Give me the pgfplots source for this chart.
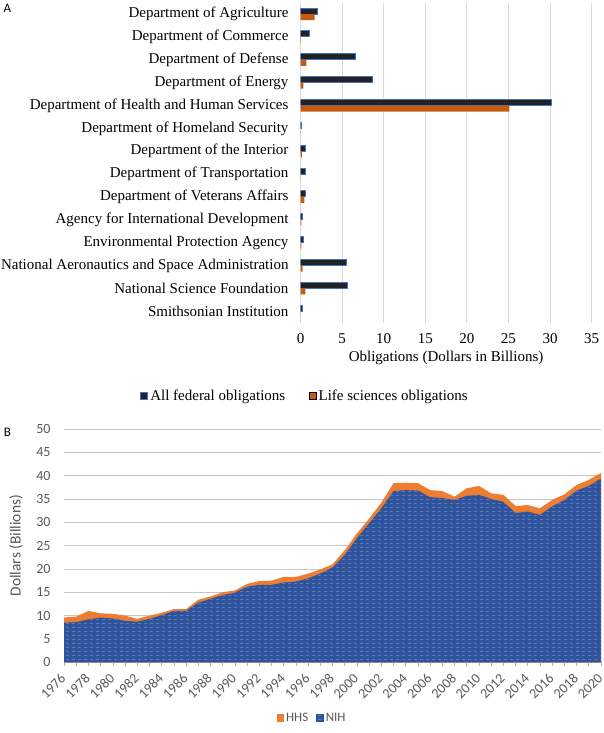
\documentclass[border=0pt]{standalone}
\usepackage{pgfplots}
\pgfplotsset{compat=1.18}
\usepackage{fontspec}
\setmainfont{Liberation Serif}
\newfontfamily\calibri{Carlito}
\usetikzlibrary{patterns}
\definecolor{barblack}{HTML}{222222}
\definecolor{barblue}{HTML}{4472C4}
\definecolor{barorange}{HTML}{C55A11}
\definecolor{gridgray}{HTML}{D9D9D9}
\definecolor{hhsorange}{HTML}{ED7D31}
\definecolor{nihblue}{HTML}{2F549B}
\definecolor{nihlight}{HTML}{6F8FCC}
\definecolor{txtgray}{HTML}{595959}
\pgfdeclarepatternformonly{hdash}{\pgfqpoint{0pt}{0pt}}{\pgfqpoint{6pt}{4pt}}{\pgfqpoint{6pt}{4pt}}{%
  \pgfsetlinewidth{0.6pt}%
  \pgfpathmoveto{\pgfqpoint{0pt}{2pt}}\pgfpathlineto{\pgfqpoint{3.5pt}{2pt}}\pgfusepath{stroke}}
\begin{document}
\begin{tikzpicture}
\useasboundingbox (0,0) rectangle (603pt,-733pt);
\node[font=\calibri\fontsize{13}{15}\selectfont] at (7.5pt,-8pt) {A};
\node[font=\calibri\fontsize{13}{15}\selectfont] at (7.5pt,-432pt) {B};
% Panel A
\begin{axis}[
  at={(300.5pt,-322.7pt)}, anchor=south west,
  scale only axis, width=291.2pt, height=320pt,
  xbar, bar width=6pt,
  xmin=0, xmax=35, ymin=-0.5, ymax=13.5,
  xtick={0,5,...,35},
  ytick={0,...,13},
  yticklabels={Smithsonian Institution,National Science Foundation,National Aeronautics and Space Administration,Environmental Protection Agency,Agency for International Development,Department of Veterans Affairs,Department of Transportation,Department of the Interior,Department of Homeland Security,Department of Health and Human Services,Department of Energy,Department of Defense,Department of Commerce,Department of Agriculture},
  axis line style={draw=none},
  major tick length=0pt,
  xmajorgrids, major grid style={gridgray, line width=1pt},
  /pgf/number format/assume math mode=true,
  tick label style={font=\fontsize{15}{18}\selectfont},
  yticklabel style={anchor=east, xshift=-8.5pt},
  xticklabel style={yshift=-7pt},
  xlabel={Obligations (Dollars in Billions)},
  xlabel style={font=\fontsize{15}{18}\selectfont, at={(axis description cs:0.5,0)}, anchor=center, yshift=-35pt},
  legend style={at={(axis description cs:0.0155,-0.229)}, anchor=center, draw=none, font=\fontsize{15}{18}\selectfont, legend columns=2, /tikz/every even column/.append style={column sep=22pt}},
  legend image code/.code={\draw[#1] (0pt,-3.5pt) rectangle (7pt,3.5pt);},
]
\addplot[bar shift=3pt, fill=barblack, draw=barblue, line width=1pt] coordinates {
(0.20,0) (5.67,1) (5.50,2) (0.42,3) (0.22,4) (0.62,5) (0.62,6) (0.62,7) (0.18,8) (30.2,9) (8.60,10) (6.67,11) (1.14,12) (2.07,13)};
\addplot[bar shift=-3pt, fill=barorange, draw=none] coordinates {
(0.02,0) (0.58,1) (0.27,2) (0.12,3) (0.10,4) (0.46,5) (0.02,6) (0.18,7) (0.01,8) (25.1,9) (0.34,10) (0.70,11) (0.05,12) (1.70,13)};
\legend{All federal obligations, Life sciences obligations}
\end{axis}
% Panel B
\begin{axis}[
  at={(64pt,-662.3pt)}, anchor=south west,
  scale only axis, width=537pt, height=233.3pt,
  xmin=1976, xmax=2020, ymin=0, ymax=50,
  xtick={1976,1978,...,2020}, minor x tick num=1,
  ytick={0,5,...,50},
  axis x line*=bottom, axis y line*=left,
  x axis line style={draw=gray!60, line width=0.8pt, -},
  y axis line style={draw=none},
  xtick style={draw=gray!60, line width=0.6pt},
  minor tick style={draw=gray!60, line width=0.6pt},
  ytick style={draw=none},
  tick align=outside, major tick length=4pt, minor tick length=4pt,
  ymajorgrids, major grid style={draw=gray!45, line width=0.9pt},
  /pgf/number format/assume math mode=true,
  tick label style={font=\calibri\fontsize{14}{16}\selectfont, text=txtgray},
  xticklabel style={/pgf/number format/1000 sep={}, yshift=-9pt, xshift=0pt, rotate=45, anchor=east, inner sep=1pt},
  yticklabel style={xshift=-6pt},
  ylabel={Dollars (Billions)},
  ylabel style={font=\calibri\fontsize{15.5}{18}\selectfont, text=txtgray, at={(axis description cs:-0.0894,0.5)}, anchor=center},
  legend style={at={(axis description cs:0.462,-0.239)}, anchor=center, draw=none, font=\calibri\fontsize{13}{15}\selectfont, text=txtgray, legend columns=2, /tikz/every even column/.append style={column sep=6pt}},
  legend image code/.code={\fill[#1] (0pt,-3.5pt) rectangle (7.5pt,4pt);},
]
\addplot[fill=hhsorange, draw=none] coordinates {
(1976,9.6) (1977,9.8) (1978,11.0) (1979,10.5) (1980,10.4) (1981,10.0) (1982,9.3) (1983,10.0) (1984,10.6) (1985,11.4) (1986,11.4) (1987,13.4) (1988,14.1) (1989,15.0) (1990,15.4) (1991,16.8) (1992,17.4) (1993,17.5) (1994,18.3) (1995,18.3) (1996,19.0) (1997,19.9) (1998,21.0) (1999,24.0) (2000,27.6) (2001,30.8) (2002,34.2) (2003,38.4) (2004,38.5) (2005,38.4) (2006,36.9) (2007,36.7) (2008,35.5) (2009,37.3) (2010,37.8) (2011,36.2) (2012,35.9) (2013,33.5) (2014,33.7) (2015,33.0) (2016,34.8) (2017,36.0) (2018,38.0) (2019,39.1) (2020,40.6)} \closedcycle;
\addplot[fill=nihblue, draw=none, postaction={pattern=hdash, pattern color=nihlight}] coordinates {
(1976,8.5) (1977,8.6) (1978,9.2) (1979,9.6) (1980,9.4) (1981,8.9) (1982,8.7) (1983,9.3) (1984,10.1) (1985,11.0) (1986,11.0) (1987,12.8) (1988,13.6) (1989,14.4) (1990,14.9) (1991,16.2) (1992,16.6) (1993,16.6) (1994,17.1) (1995,17.3) (1996,18.0) (1997,19.0) (1998,20.3) (1999,23.0) (2000,26.6) (2001,29.8) (2002,33.0) (2003,36.7) (2004,36.9) (2005,36.8) (2006,35.4) (2007,35.2) (2008,34.8) (2009,35.7) (2010,35.9) (2011,35.0) (2012,34.4) (2013,32.0) (2014,32.3) (2015,31.6) (2016,33.4) (2017,34.8) (2018,36.8) (2019,37.8) (2020,39.4)} \closedcycle;
\legend{HHS, NIH}
\end{axis}
\end{tikzpicture}
\end{document}
